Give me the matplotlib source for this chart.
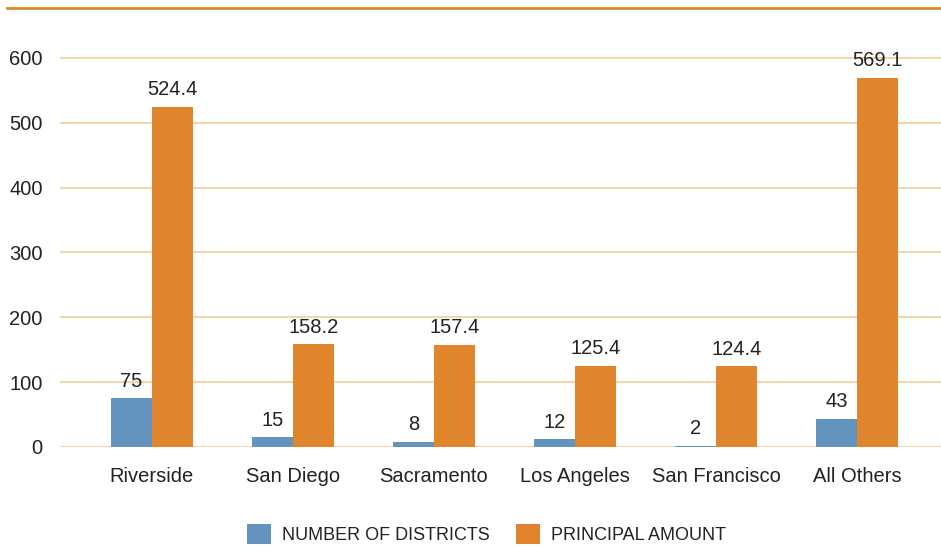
import matplotlib.pyplot as plt
from matplotlib.lines import Line2D
import numpy as np

plt.rcParams['font.family'] = ['Liberation Sans', 'DejaVu Sans']

regions = ['Riverside', 'San Diego', 'Sacramento', 'Los Angeles', 'San Francisco', 'All Others']
districts = [75, 15, 8, 12, 2, 43]
principal = [524.4, 158.2, 157.4, 125.4, 124.4, 569.1]
district_labels = ['75', '15', '8', '12', '2', '43']
principal_labels = ['524.4', '158.2', '157.4', '125.4', '124.4', '569.1']

blue = '#6394bd'
orange = '#e0852b'
grid_col = '#f5d4a9'
text_col = '#222222'

fig = plt.figure(figsize=(9.41, 5.47), dpi=100)
ax = fig.add_axes([60 / 941, 1 - 447 / 547, 881 / 941, 439 / 547])

x = np.arange(len(regions))
w = 0.293
b1 = ax.bar(x - w / 2, districts, w, color=blue, label='NUMBER OF DISTRICTS', zorder=3)
b2 = ax.bar(x + w / 2, principal, w, color=orange, label='PRINCIPAL AMOUNT', zorder=3)

# value labels above bars
for bars, labels in [(b1, district_labels), (b2, principal_labels)]:
    for bar, lab in zip(bars, labels):
        ax.annotate(lab, (bar.get_x() + bar.get_width() / 2, bar.get_height()),
                    xytext=(0, 5.5), textcoords='offset points',
                    ha='center', va='bottom', fontsize=14.5, color=text_col, zorder=4)

ax.set_xlim(-0.652, 5.596)
ax.set_ylim(0, 677)
ax.set_yticks(range(0, 700, 100))
ax.set_xticks(x)
ax.set_xticklabels(regions)
ax.yaxis.grid(True, color=grid_col, linewidth=1.5, zorder=0)
ax.tick_params(axis='both', length=0, labelsize=14.5, labelcolor=text_col)
ax.tick_params(axis='y', pad=12.5)
ax.tick_params(axis='x', pad=14.5)
for s in ax.spines.values():
    s.set_visible(False)

# orange rule across the top
fig.add_artist(Line2D([7 / 941, 1], [1 - 8 / 547, 1 - 8 / 547],
                      color=orange, linewidth=2, transform=fig.transFigure))

fig.legend(handles=[b1, b2], loc='center', bbox_to_anchor=(0.517, 0.024),
           ncol=2, frameon=False, fontsize=13, handlelength=1.33,
           handleheight=1.33, handletextpad=0.6, columnspacing=1.5,
           labelcolor=text_col)

fig.savefig('out.png', dpi=100)
